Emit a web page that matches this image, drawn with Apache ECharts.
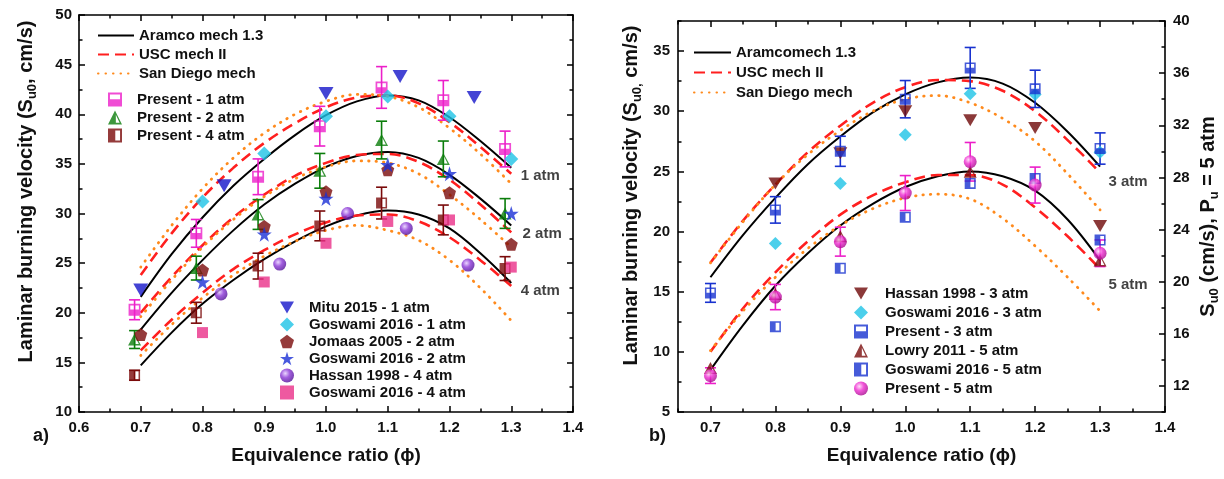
<!DOCTYPE html>
<html>
<head>
<meta charset="utf-8">
<script src="https://cdn.jsdelivr.net/npm/echarts@6/dist/echarts.min.js"></script>
<style>html,body{margin:0;padding:0;background:#fff}#c{width:1224px;height:479px}</style>
</head>
<body>
<div id="c"></div>
<script>
// ---------- data: panel a) ----------
const phiCurve = [0.7,0.75,0.8,0.85,0.9,0.95,1.0,1.05,1.1,1.15,1.2,1.25,1.3];
const aramco1atm = [21.6,25.9,29.6,32.8,35.5,37.9,39.9,41.3,41.9,41.4,39.7,37.3,34.6];
const aramco2atm = [18.3,22.0,25.3,28.3,30.9,33.0,34.7,35.8,36.2,35.6,33.9,31.5,28.8];
const aramco4atm = [14.7,18.0,20.9,23.3,25.4,27.2,28.7,29.8,30.3,29.9,28.5,26.0,23.0];
const usc1atm = [23.8,28.0,31.6,34.6,37.1,39.1,40.7,41.7,41.9,41.1,39.2,36.7,34.0];
const usc2atm = [20.0,23.6,26.8,29.6,31.9,33.8,35.1,35.9,36.0,35.2,33.4,30.9,28.1];
const usc4atm = [16.2,19.3,22.0,24.4,26.3,27.9,29.1,29.8,29.9,29.2,27.6,25.3,22.7];
const sd1atm = [24.6,28.8,32.5,35.6,38.1,40.0,41.3,42.0,41.8,40.7,38.6,36.0,33.0];
const sd2atm = [19.6,23.3,26.6,29.4,31.7,33.5,34.7,35.3,35.1,34.0,31.9,29.4,26.6];
const sd4atm = [15.7,18.8,21.5,23.8,25.7,27.2,28.3,28.8,28.3,27.3,25.3,22.5,19.2];

const presentPhi = [0.69,0.79,0.89,0.99,1.09,1.19,1.29];
const present1atm = [20.3,28.0,33.7,38.8,42.7,41.4,36.5];
const present1atmErr = [1.0,1.4,1.8,2.0,2.1,2.0,1.8];
const present2atm = [17.3,24.5,29.9,34.3,37.4,35.5,30.0];
const present2atmErr = [0.9,1.2,1.5,1.75,1.9,1.8,1.5];
const present4atm = [13.7,20.0,24.7,28.75,31.05,29.35,24.45];
const present4atmErr = [0.5,1.05,1.3,1.5,1.6,1.5,1.2];

const mituPhi = [0.7,0.835,1.0,1.12,1.24];
const mitu1atm = [22.3,32.8,42.1,43.8,41.7];
const gosPhi = [0.8,0.9,1.0,1.1,1.2,1.3];
const goswami1atm = [31.2,36.05,39.8,41.8,39.8,35.5];
const jomaasPhi = [0.7,0.8,0.9,1.0,1.1,1.2,1.3];
const jomaas2atm = [17.8,24.3,28.7,32.2,34.4,32.1,26.9];
const goswami2atm = [23.1,27.9,31.5,34.9,34.0,30.0];
const hassanPhi = [0.83,0.925,1.035,1.13,1.23];
const hassan4atm = [21.9,24.9,30.0,28.5,24.8];
const goswami4atm = [18.0,23.1,27.0,29.2,29.35,24.6];

// ---------- data: panel b) ----------
const aramco3atm = [16.2,19.7,22.8,25.6,27.9,29.9,31.4,32.4,32.8,32.3,30.7,28.3,25.4];
const usc3atm = [17.4,20.9,23.9,26.6,28.8,30.7,32.0,32.6,32.5,31.7,30.0,27.6,24.9];
const sd3atm = [17.4,20.8,23.9,26.4,28.4,30.0,31.0,31.3,30.7,29.4,27.5,24.8,21.8];
// 5 atm curves, right axis (S_u0 at P_u = 5 atm)
const aramco5atm = [13.23,16.65,19.69,22.18,24.31,25.97,27.26,28.09,28.46,28.09,26.98,24.77,21.63];
const usc5atm = [14.62,17.94,20.71,23.11,25.14,26.62,27.63,28.18,28.18,27.45,25.69,23.48,20.98];
const sd5atm = [14.71,17.75,20.34,22.55,24.31,25.60,26.43,26.71,26.34,24.86,22.74,20.34,17.75];

const phiB = [0.7,0.8,0.9,1.0,1.1,1.2,1.3];
const hassanBPhi = [0.8,0.9,1.0,1.1,1.2,1.3];
const hassan3atm = [24.0,26.5,30.0,29.25,28.6,20.45];
const goswami3atm = [19.0,24.0,28.05,31.45,31.4,26.6];
const present3atm = [14.9,21.8,26.67,31.0,33.6,31.86,26.9];
const present3atmErr = [0.78,1.1,1.25,1.55,1.7,1.55,1.3];
const lowryPhi = [0.7,0.8,0.9,1.1,1.3];
const lowry5atm = [13.37,19.05,23.48,28.43,21.63];
const goswami5atm = [16.55,21.03,24.95,27.54,27.91,23.20];
const present5atm = [12.79,18.82,23.07,26.80,29.20,27.41,22.18];
const present5atmErr = [0.6,0.97,1.11,1.34,1.48,1.38,1.02];

// tick labels
const xTicksB = [0.7,0.8,0.9,1.0,1.1,1.2,1.3,1.4];
const yTicksBLeft = [5,10,15,20,25,30,35];
const yTicksBRight = [12,16,20,24,28,32,36,40];

// ---------- helpers ----------
const FONT = "'Liberation Sans', Arial, Helvetica, sans-serif";
const pair = (xs, ys) => xs.map((x, i) => [x, ys[i]]);
const errData = (xs, ys, es) => xs.map((x, i) => [x, ys[i] - es[i], ys[i] + es[i]]);

const DOWN_TRI = 'path://M0,0L100,0L50,87Z';
const STAR = 'path://M50,0L61.23,34.55L97.55,34.55L68.16,55.9L79.39,90.45L50,69.1L20.61,90.45L31.84,55.9L2.45,34.55L38.77,34.55Z';
const PENTA = 'path://M50,0L97.55,34.55L79.39,90.45L20.61,90.45L2.45,34.55Z';
const DIAMOND = 'path://M50,0L100,50L50,100L0,50Z';
const SQUARE = 'path://M0,0L100,0L100,100L0,100Z';
const SQ_BOTTOM = 'path://M0,0L100,0L100,100L0,100Z M14,14L14,48L86,48L86,14Z';
const SQ_LEFT = 'path://M0,0L100,0L100,100L0,100Z M52,14L52,86L86,86L86,14Z';
const TRI_LEFT = 'path://M50,0L100,100L0,100Z M56,30L56,88L83,88Z';

function sphere(light, mid, dark) {
  return {type: 'radial', x: 0.38, y: 0.35, r: 0.7,
    colorStops: [{offset: 0, color: light}, {offset: 0.45, color: mid}, {offset: 1, color: dark}]};
}

function errorBarItem(params, api) {
  const x = api.value(0);
  const lo = api.coord([x, api.value(1)]);
  const hi = api.coord([x, api.value(2)]);
  const h = 5.5;
  const c = api.visual('color');
  const st = () => ({stroke: c, lineWidth: 1.6, fill: null});
  return {type: 'group', children: [
    {type: 'line', shape: {x1: lo[0], y1: lo[1], x2: hi[0], y2: hi[1]}, style: st()},
    {type: 'line', shape: {x1: hi[0] - h, y1: hi[1], x2: hi[0] + h, y2: hi[1]}, style: st()},
    {type: 'line', shape: {x1: lo[0] - h, y1: lo[1], x2: lo[0] + h, y2: lo[1]}, style: st()}
  ]};
}

const BLACK = '#000000', RED = '#ff1f1f', ORANGE = '#ff8a1c';
function curve(name, ys, kind, xi, yi) {
  const ls = kind === 'a' ? {color: BLACK, width: 2, type: 'solid'}
           : kind === 'u' ? {color: RED, width: 2.6, type: [11, 6]}
           : {color: ORANGE, width: 2.8, type: [0.5, 7], cap: 'round'};
  return {type: 'line', name, data: pair(phiCurve, ys), xAxisIndex: xi, yAxisIndex: yi,
    symbol: 'none', smooth: 0.35, lineStyle: ls, itemStyle: {color: ls.color}, z: 2, silent: true};
}
function pts(name, xs, ys, symbol, size, color, xi, yi) {
  return {type: 'scatter', name, data: pair(xs, ys), xAxisIndex: xi, yAxisIndex: yi,
    symbol, symbolSize: size, itemStyle: {color}, z: 4, silent: true};
}
function bars(xs, ys, es, color, xi, yi) {
  return {type: 'custom', renderItem: errorBarItem, data: errData(xs, ys, es),
    encode: {x: 0, y: [1, 2]}, xAxisIndex: xi, yAxisIndex: yi, itemStyle: {color}, z: 3, silent: true};
}
function notes(items, xi, yi) {
  return {type: 'scatter', data: items.map(d => ({name: d[0], value: [d[1], d[2]]})),
    xAxisIndex: xi, yAxisIndex: yi, symbolSize: 1, itemStyle: {color: 'rgba(0,0,0,0)'}, silent: true, z: 6,
    label: {show: true, position: 'inside', formatter: p => p.name, fontFamily: FONT, fontWeight: 'bold', fontSize: 15, color: '#111'}};
}

const lblStyle = {fontFamily: FONT, fontWeight: 'bold', fontSize: 15, color: '#111'};
const lineAx = {show: true, onZero: false, lineStyle: {color: '#000', width: 1.6}};
const noLbl = {show: false};
const majorTick = {show: true, inside: true, length: 6, lineStyle: {color: '#000', width: 1.5}};
const minorTickSt = {show: true, length: 3.5, splitNumber: 2, lineStyle: {color: '#000', width: 1.5}};
const minorOnly = {show: true, inside: true, length: 3.5, lineStyle: {color: '#000', width: 1.5}};
const xNameStyle = {fontFamily: FONT, fontWeight: 'bold', fontSize: 19, color: '#111'};
const yNameRich = {
  n: {fontFamily: FONT, fontWeight: 'bold', fontSize: 20, lineHeight: 26, color: '#111'},
  s: {fontFamily: FONT, fontWeight: 'bold', fontSize: 13, lineHeight: 13, verticalAlign: 'bottom', color: '#111'}
};

const xAxes = [
  // panel a
  {gridIndex: 0, type: 'value', position: 'bottom', min: 0.6, max: 1.4, interval: 0.1,
   axisLine: lineAx, axisTick: majorTick, minorTick: minorTickSt, splitLine: {show: false},
   axisLabel: Object.assign({margin: 8, formatter: v => v.toFixed(1)}, lblStyle),
   name: 'Equivalence ratio (ϕ)', nameLocation: 'middle', nameGap: 34, nameTextStyle: xNameStyle},
  {gridIndex: 0, type: 'value', position: 'top', min: 0.6, max: 1.4, interval: 0.1,
   axisLine: lineAx, axisTick: majorTick, minorTick: minorTickSt, splitLine: {show: false}, axisLabel: noLbl},
  // panel b main bottom
  {gridIndex: 1, type: 'value', position: 'bottom', min: 0.65, max: 1.4,
   axisLine: lineAx, splitLine: {show: false},
   axisTick: Object.assign({customValues: xTicksB}, majorTick),
   axisLabel: Object.assign({margin: 8, customValues: xTicksB, formatter: v => v.toFixed(1)}, lblStyle),
   name: 'Equivalence ratio (ϕ)', nameLocation: 'middle', nameGap: 34, nameTextStyle: xNameStyle},
  {gridIndex: 1, type: 'value', position: 'bottom', min: 0.65, max: 1.4, interval: 0.05,
   axisLine: {show: false}, splitLine: {show: false}, axisLabel: noLbl, axisTick: minorOnly},
  {gridIndex: 1, type: 'value', position: 'top', min: 0.65, max: 1.4,
   axisLine: lineAx, splitLine: {show: false}, axisLabel: noLbl,
   axisTick: Object.assign({customValues: xTicksB}, majorTick)},
  {gridIndex: 1, type: 'value', position: 'top', min: 0.65, max: 1.4, interval: 0.05,
   axisLine: {show: false}, splitLine: {show: false}, axisLabel: noLbl, axisTick: minorOnly}
];

const yAxes = [
  {gridIndex: 0, type: 'value', position: 'left', min: 10, max: 50, interval: 5,
   axisLine: lineAx, axisTick: majorTick, minorTick: minorTickSt, splitLine: {show: false},
   axisLabel: Object.assign({margin: 7}, lblStyle),
   name: '{n|Laminar burning velocity (S}{s|u0}{n|, cm/s)}', nameLocation: 'middle', nameGap: 40, nameRotate: 90,
   nameTextStyle: {rich: yNameRich, padding: [0, 0, 0, 44]}},
  {gridIndex: 0, type: 'value', position: 'right', min: 10, max: 50, interval: 5,
   axisLine: lineAx, axisTick: majorTick, minorTick: minorTickSt, splitLine: {show: false}, axisLabel: noLbl},
  // panel b left
  {gridIndex: 1, type: 'value', position: 'left', min: 5, max: 37.5,
   axisLine: lineAx, splitLine: {show: false},
   axisTick: Object.assign({customValues: yTicksBLeft}, majorTick),
   axisLabel: Object.assign({margin: 8, customValues: yTicksBLeft}, lblStyle),
   name: '{n|Laminar burning velocity (S}{s|u0,}{n| cm/s)}', nameLocation: 'middle', nameGap: 34, nameRotate: 90,
   nameTextStyle: {rich: yNameRich, padding: [0, 0, 0, 42]}},
  {gridIndex: 1, type: 'value', position: 'left', min: 5, max: 37.5, interval: 2.5,
   axisLine: {show: false}, splitLine: {show: false}, axisLabel: noLbl, axisTick: minorOnly},
  // panel b right
  {gridIndex: 1, type: 'value', position: 'right', min: 10, max: 40,
   axisLine: lineAx, splitLine: {show: false},
   axisTick: Object.assign({customValues: yTicksBRight}, majorTick),
   axisLabel: Object.assign({margin: 8, customValues: yTicksBRight}, lblStyle),
   name: '{n|S}{s|u0}{n| (cm/s), P}{s|u}{n| = 5 atm}', nameLocation: 'middle', nameGap: 30, nameRotate: 90,
   nameTextStyle: {rich: yNameRich}},
  {gridIndex: 1, type: 'value', position: 'right', min: 10, max: 40, interval: 2,
   axisLine: {show: false}, splitLine: {show: false}, axisLabel: noLbl, axisTick: minorOnly}
];

const MAG = '#ec1fc9', GREEN = '#0b7d0b', DRED = '#7a0a0a', BLUE = '#1515c9', CYAN = '#1ec3e6',
      BLUE2 = '#1a30d6', PINK = '#ea2f88', BLUE3 = '#1832cf';
const PURPLE_S = sphere('#e6ccff', '#8a35d6', '#4e0d93');
const MAG_S = sphere('#ffd6f6', '#ee2ad0', '#a3078a');

const series = [
  // panel a curves
  curve('Aramco mech 1.3', aramco1atm, 'a', 0, 0),
  curve('Aramco mech 1.3', aramco2atm, 'a', 0, 0),
  curve('Aramco mech 1.3', aramco4atm, 'a', 0, 0),
  curve('USC mech II', usc1atm, 'u', 0, 0),
  curve('USC mech II', usc2atm, 'u', 0, 0),
  curve('USC mech II', usc4atm, 'u', 0, 0),
  curve('San Diego mech', sd1atm, 's', 0, 0),
  curve('San Diego mech', sd2atm, 's', 0, 0),
  curve('San Diego mech', sd4atm, 's', 0, 0),
  // panel a error bars
  bars(presentPhi, present1atm, present1atmErr, MAG, 0, 0),
  bars(presentPhi, present2atm, present2atmErr, GREEN, 0, 0),
  bars(presentPhi, present4atm, present4atmErr, DRED, 0, 0),
  // panel a markers
  pts('Present - 1 atm', presentPhi, present1atm, SQ_BOTTOM, 12, MAG, 0, 0),
  pts('Present - 2 atm', presentPhi, present2atm, TRI_LEFT, [13, 12], GREEN, 0, 0),
  pts('Present - 4 atm', presentPhi, present4atm, SQ_LEFT, 11, DRED, 0, 0),
  pts('Mitu 2015 - 1 atm', mituPhi, mitu1atm, DOWN_TRI, [15, 13], BLUE, 0, 0),
  pts('Goswami 2016 - 1 atm', gosPhi, goswami1atm, DIAMOND, 14, CYAN, 0, 0),
  pts('Jomaas 2005 - 2 atm', jomaasPhi, jomaas2atm, PENTA, 13, DRED, 0, 0),
  pts('Goswami 2016 - 2 atm', gosPhi, goswami2atm, STAR, 15, BLUE2, 0, 0),
  pts('Hassan 1998 - 4 atm', hassanPhi, hassan4atm, 'circle', 13, PURPLE_S, 0, 0),
  pts('Goswami 2016 - 4 atm', gosPhi, goswami4atm, SQUARE, 11, PINK, 0, 0),
  notes([['1 atm', 1.347, 33.8], ['2 atm', 1.35, 27.9], ['4 atm', 1.347, 22.2]], 0, 0),

  // panel b curves
  curve('Aramcomech 1.3', aramco3atm, 'a', 2, 2),
  curve('Aramcomech 1.3', aramco5atm, 'a', 2, 4),
  curve('USC mech II', usc3atm, 'u', 2, 2),
  curve('USC mech II', usc5atm, 'u', 2, 4),
  curve('San Diego mech', sd3atm, 's', 2, 2),
  curve('San Diego mech', sd5atm, 's', 2, 4),
  bars(phiB, present3atm, present3atmErr, BLUE3, 2, 2),
  bars(phiB, present5atm, present5atmErr, MAG, 2, 4),
  pts('Hassan 1998 - 3 atm', hassanBPhi, hassan3atm, DOWN_TRI, [14, 12], '#6e0808', 2, 2),
  pts('Goswami 2016 - 3 atm', hassanBPhi, goswami3atm, DIAMOND, 13, CYAN, 2, 2),
  pts('Present - 3 atm', phiB, present3atm, SQ_BOTTOM, 11, BLUE3, 2, 2),
  pts('Lowry 2011 - 5 atm', lowryPhi, lowry5atm, TRI_LEFT, [13, 12], '#7a0c0c', 2, 4),
  pts('Goswami 2016 - 5 atm', hassanBPhi, goswami5atm, SQ_LEFT, 11, BLUE3, 2, 4),
  pts('Present - 5 atm', phiB, present5atm, 'circle', 13, MAG_S, 2, 4),
  notes([['3 atm', 1.343, 24.1]], 2, 2),
  notes([['5 atm', 1.343, 19.75]], 2, 4)
];

const legTxt = {fontFamily: FONT, fontWeight: 'bold', fontSize: 15, color: '#111'};
const lineLeg = {orient: 'vertical', padding: 0, selectedMode: false, textStyle: legTxt,
  itemHeight: 14, itemStyle: {opacity: 0}};
const symLeg = (padLeft) => ({orient: 'vertical', padding: 0, selectedMode: false, itemWidth: 14, itemHeight: 14,
  textStyle: Object.assign({padding: [0, 0, 0, padLeft]}, legTxt)});
const legends = [
  Object.assign(lineLeg, {data: ['Aramco mech 1.3', 'USC mech II', 'San Diego mech'], left: 97, top: 28, itemWidth: 36, itemGap: 4}),
  Object.assign(symLeg(10), {data: ['Present - 1 atm', 'Present - 2 atm', 'Present - 4 atm'], left: 108, top: 92, itemGap: 3}),
  Object.assign(symLeg(10), {data: ['Mitu 2015 - 1 atm', 'Goswami 2016 - 1 atm', 'Jomaas 2005 - 2 atm', 'Goswami 2016 - 2 atm', 'Hassan 1998 - 4 atm', 'Goswami 2016 - 4 atm'], left: 280, top: 300, itemGap: 2}),
  Object.assign({orient: 'vertical', padding: 0, selectedMode: false, textStyle: legTxt, itemHeight: 14, itemStyle: {opacity: 0}},
    {data: ['Aramcomech 1.3', 'USC mech II', 'San Diego mech'], left: 693, top: 45, itemWidth: 37, itemGap: 5}),
  Object.assign(symLeg(12), {data: ['Hassan 1998 - 3 atm', 'Goswami 2016 - 3 atm', 'Present - 3 atm', 'Lowry 2011 - 5 atm', 'Goswami 2016 - 5 atm', 'Present - 5 atm'], left: 854, top: 286, itemGap: 4})
];

const chart = echarts.init(document.getElementById('c'), null, {renderer: 'canvas'});
chart.setOption({
  animation: false,
  backgroundColor: '#ffffff',
  title: [
    {text: 'a)', left: 28, top: 422, textStyle: {fontFamily: FONT, fontWeight: 'bold', fontSize: 18, color: '#111'}},
    {text: 'b)', left: 644, top: 422, textStyle: {fontFamily: FONT, fontWeight: 'bold', fontSize: 18, color: '#111'}}
  ],
  grid: [
    {left: 79, top: 15, width: 494, height: 397},
    {left: 678, top: 21, width: 487, height: 391}
  ],
  legend: legends,
  xAxis: xAxes,
  yAxis: yAxes,
  series
});
</script>
</body>
</html>
